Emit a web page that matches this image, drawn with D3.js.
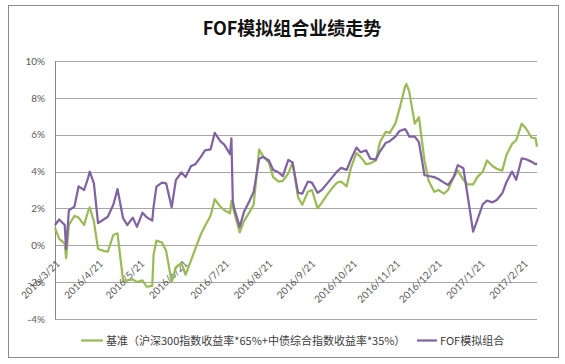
<!DOCTYPE html>
<html>
<head>
<meta charset="utf-8">
<script src="https://cdn.jsdelivr.net/npm/d3@7"></script>
<style>
  html, body { margin: 0; padding: 0; background: #fff; }
  svg { display: block; }
</style>
</head>
<body>
<svg id="chart" width="565" height="364"></svg>
<script>
const title = "FOF模拟组合业绩走势";
const seriesNames = ["基准（沪深300指数收益率*65%+中债综合指数收益率*35%）", "FOF模拟组合"];
const seriesColors = ["#9BBB59", "#8064A2"];

const dates = [
"2016-03-21","2016-03-24","2016-03-28","2016-03-29","2016-03-31","2016-04-04","2016-04-07","2016-04-11","2016-04-14","2016-04-15",
"2016-04-18","2016-04-21","2016-04-25","2016-04-28","2016-05-02","2016-05-05","2016-05-09","2016-05-12","2016-05-16","2016-05-19",
"2016-05-23","2016-05-26","2016-05-30","2016-05-31","2016-06-02","2016-06-06","2016-06-09","2016-06-13","2016-06-16","2016-06-20",
"2016-06-23","2016-06-27","2016-06-30","2016-07-04","2016-07-07","2016-07-11","2016-07-14","2016-07-18","2016-07-21","2016-07-25",
"2016-07-26","2016-07-27","2016-07-28","2016-08-01","2016-08-04","2016-08-08","2016-08-11","2016-08-15","2016-08-18","2016-08-22",
"2016-08-25","2016-08-29","2016-09-01","2016-09-05","2016-09-08","2016-09-12","2016-09-15","2016-09-19","2016-09-22","2016-09-26",
"2016-09-29","2016-10-03","2016-10-06","2016-10-10","2016-10-13","2016-10-17","2016-10-20","2016-10-24","2016-10-27","2016-10-31",
"2016-11-03","2016-11-07","2016-11-10","2016-11-14","2016-11-17","2016-11-21","2016-11-24","2016-11-28","2016-11-29","2016-12-01",
"2016-12-05","2016-12-08","2016-12-12","2016-12-15","2016-12-19","2016-12-22","2016-12-26","2016-12-29","2017-01-02","2017-01-05",
"2017-01-09","2017-01-12","2017-01-16","2017-01-19","2017-01-23","2017-01-26","2017-01-30","2017-02-02","2017-02-06","2017-02-09",
"2017-02-13","2017-02-16","2017-02-20","2017-02-23","2017-02-27","2017-03-02","2017-03-03"
];

const benchmark = [
0.95,0.35,0.1,-0.7,1.1,1.6,1.5,1.1,1.9,2.05,
1.3,-0.2,-0.3,-0.35,0.56,0.65,-1.9,-1.9,-1.85,-2.0,
-1.9,-2.25,-2.2,-0.5,0.25,0.15,-0.3,-2.0,-1.2,-0.95,
-1.6,-0.8,-0.2,0.6,1.05,1.6,2.5,2.1,1.9,1.74,
2.4,2.1,1.8,0.7,1.3,1.8,2.2,5.2,4.8,4.5,
3.7,3.45,3.5,3.9,4.5,2.6,2.2,2.9,3.0,2.0,
2.3,2.75,3.05,3.4,3.45,3.2,4.2,5.0,4.8,4.4,
4.45,4.6,5.6,6.15,6.1,6.6,7.4,8.6,8.75,8.35,
6.6,6.95,4.6,3.5,2.9,3.0,2.8,3.0,3.7,4.05,
3.55,3.3,3.3,3.7,4.0,4.6,4.3,4.15,4.05,4.9,
5.5,5.7,6.6,6.35,5.85,5.8,5.35
];

const fof = [
1.1,1.4,1.1,-0.2,1.9,2.1,3.2,3.0,3.7,4.0,
3.36,1.2,1.4,1.55,2.2,3.05,1.47,1.1,1.5,1.0,
1.77,1.52,1.34,2.1,3.18,3.4,3.36,2.06,3.54,3.95,
3.7,4.3,4.4,4.8,5.15,5.2,6.1,5.65,5.45,4.95,
5.8,2.4,2.0,1.0,1.8,2.4,2.9,4.7,4.8,4.6,
4.1,3.95,3.75,4.63,4.5,2.85,2.8,3.45,3.4,2.85,
3.0,3.36,3.63,4.0,4.2,4.09,4.65,5.3,5.05,5.15,
4.7,4.65,5.1,5.55,5.65,5.9,6.2,6.3,6.2,5.9,
5.9,5.6,3.8,3.76,3.7,3.6,3.4,3.27,3.7,4.35,
4.18,2.73,0.74,1.37,2.24,2.42,2.33,2.46,2.82,3.42,
4.0,3.55,4.72,4.67,4.54,4.4,4.45
];

const yTicks = [-4, -2, 0, 2, 4, 6, 8, 10];
const xTickLabels = ["2016/3/21","2016/4/21","2016/5/21","2016/6/21","2016/7/21","2016/8/21","2016/9/21","2016/10/21","2016/11/21","2016/12/21","2017/1/21","2017/2/21"];

const parse = d3.timeParse("%Y-%m-%d");
const parseLabel = d3.timeParse("%Y/%m/%d");
const dateObjs = dates.map(parse);

const svg = d3.select("#chart");
const plotL = 55, plotR = 537, plotT = 61, plotB = 319;

const x = d3.scaleTime().domain([dateObjs[0], dateObjs[dateObjs.length - 1]]).range([plotL, plotR]);
const y = d3.scaleLinear().domain([-4, 10]).range([plotB, plotT]);

// chart border
svg.append("rect").attr("x", 8.5).attr("y", 5.5).attr("width", 550).attr("height", 352)
  .attr("fill", "#fff").attr("stroke", "#8c8c8c").attr("stroke-width", 1);

// title
svg.append("text").attr("x", 292).attr("y", 35).attr("text-anchor", "middle")
  .attr("font-family", "'Noto Sans CJK SC', sans-serif").attr("font-weight", "bold")
  .attr("font-size", 18).attr("fill", "#111").text(title);

// gridlines + y labels
const yAxis = d3.axisLeft(y).tickValues(yTicks).tickFormat(d => d + "%").tickSize(-(plotR - plotL)).tickPadding(10);
const gy = svg.append("g").attr("transform", `translate(${plotL},0)`).call(yAxis);
gy.select(".domain").remove();
gy.selectAll(".tick line").attr("stroke", "#a6a6a6").attr("stroke-width", 1).attr("shape-rendering", "crispEdges");
gy.selectAll(".tick text").attr("font-family", "Lato, sans-serif").attr("font-size", 10).attr("fill", "#595959");

// vertical axis line
svg.append("line").attr("x1", plotL + 0.5).attr("x2", plotL + 0.5).attr("y1", plotT).attr("y2", plotB)
  .attr("stroke", "#868686").attr("stroke-width", 1);

// x labels
const xAxis = d3.axisBottom(x).tickValues(xTickLabels.map(parseLabel)).tickFormat(d3.timeFormat("%Y/%-m/%-d")).tickSize(0);
const gx = svg.append("g").attr("transform", `translate(0,${y(0)})`).call(xAxis);
gx.select(".domain").remove();
gx.selectAll(".tick text")
  .attr("font-family", "Lato, sans-serif").attr("font-size", 10).attr("fill", "#595959")
  .attr("text-anchor", "end").attr("x", 0).attr("y", 0).attr("dy", 0)
  .attr("transform", "translate(5,19) rotate(-45)");

// lines
const series = [benchmark, fof];
series.forEach((vals, i) => {
  const line = d3.line().x((d, j) => x(dateObjs[j])).y(d => y(d));
  svg.append("path").datum(vals).attr("d", line).attr("fill", "none")
    .attr("stroke", seriesColors[i]).attr("stroke-width", 2.25).attr("stroke-linejoin", "round");
});

// legend
const legendItems = [{x: 81, w: 22}, {x: 417, w: 20}];
legendItems.forEach((it, i) => {
  svg.append("line").attr("x1", it.x).attr("x2", it.x + it.w).attr("y1", 340.5).attr("y2", 340.5)
    .attr("stroke", seriesColors[i]).attr("stroke-width", 2.25);
  svg.append("text").attr("x", it.x + it.w + 3).attr("y", 344.5)
    .attr("font-family", "'Noto Sans CJK SC', sans-serif").attr("font-size", 11).attr("fill", "#404040")
    .text(seriesNames[i]);
});
</script>
</body>
</html>
